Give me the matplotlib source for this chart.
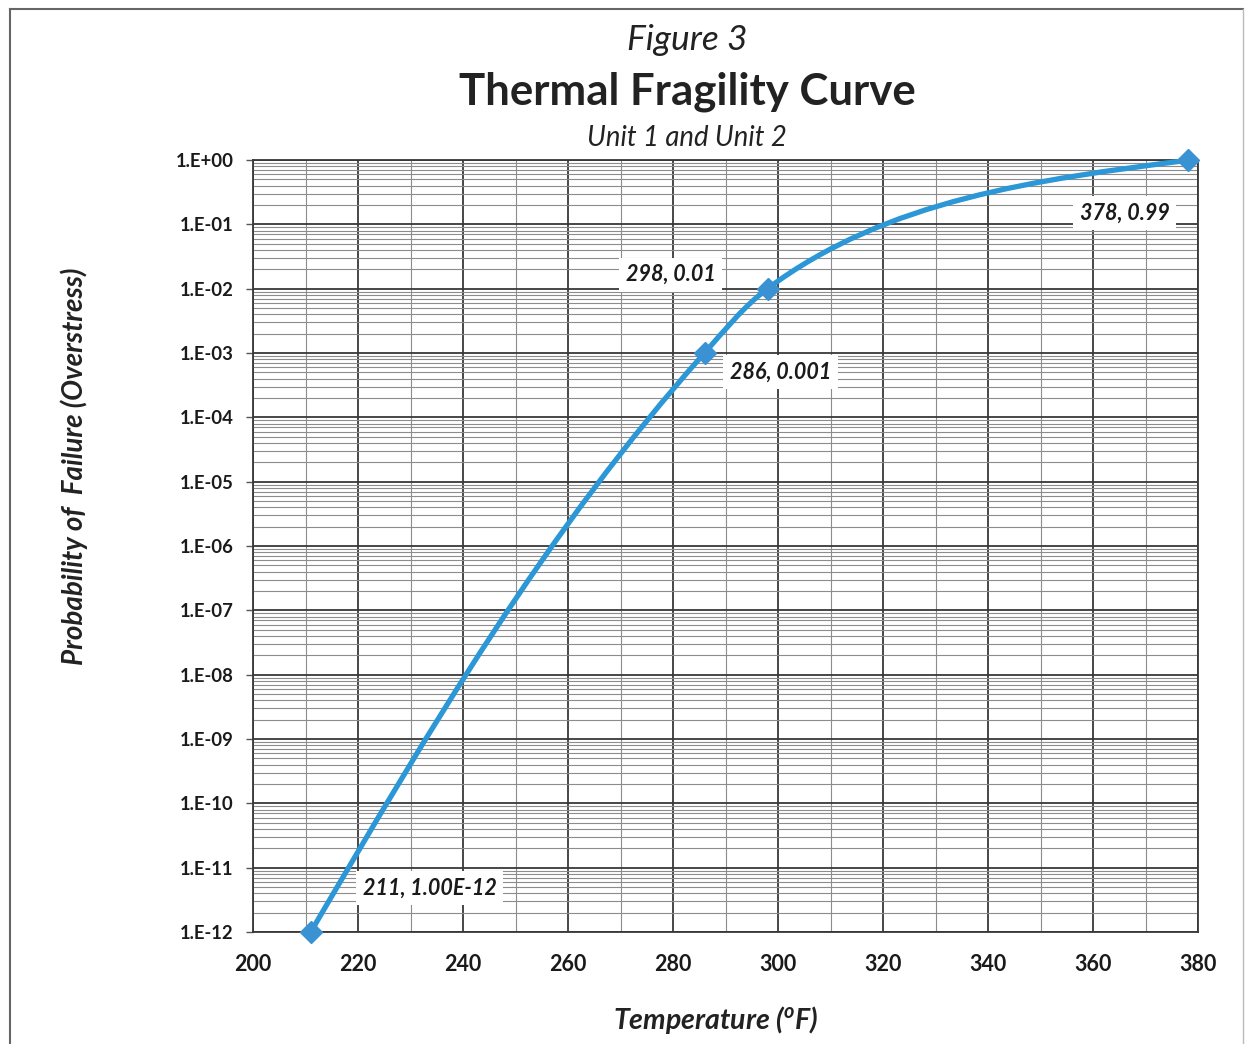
import numpy as np
import matplotlib
matplotlib.use("Agg")
import matplotlib.pyplot as plt
from matplotlib.path import Path
from matplotlib.patches import PathPatch
from matplotlib.lines import Line2D
from matplotlib.ticker import LogLocator, MultipleLocator, NullFormatter, FuncFormatter

# ==========================
# DATA
# ==========================

temps = [211, 286, 298, 378]
probs = [1.00e-12, 0.001, 0.01, 0.99]
point_labels = ["211, 1.00E-12", "286, 0.001", "298, 0.01", "378, 0.99"]

x_ticks = [200, 220, 240, 260, 280, 300, 320, 340, 360, 380]

# label offsets from each point (pixels)
label_offsets = [(119, 44), (76, -19), (-97, 14), (-63, -53)]

# ==========================
# STYLE
# ==========================

FONT = "Lato"
plt.rcParams["font.family"] = [FONT, "DejaVu Sans"]
plt.rcParams["mathtext.fontset"] = "custom"
plt.rcParams["mathtext.rm"] = FONT + ":italic:bold"
plt.rcParams["mathtext.it"] = FONT + ":italic:bold"

blue = "#2B97D6"

fig = plt.figure(figsize=(12.46, 10.44), dpi=100)
ax = fig.add_axes([253 / 1246, 112 / 1044, 945 / 1246, 772 / 1044])

ax.set_yscale("log")
ax.set_xlim(200, 380)
ax.set_ylim(1e-12, 1e0)

ax.set_xticks(x_ticks)
ax.xaxis.set_minor_locator(MultipleLocator(10))
ax.yaxis.set_major_locator(LogLocator(base=10, numticks=20))
ax.yaxis.set_minor_locator(LogLocator(base=10, subs=range(2, 10), numticks=20))
ax.yaxis.set_minor_formatter(NullFormatter())
ax.yaxis.set_major_formatter(
    FuncFormatter(lambda v, p: "1.E%+03d" % int(round(np.log10(v))))
)

ax.grid(which="major", color="#383838", lw=1.3)
ax.grid(which="minor", color="#8c8c8c", lw=0.8)
ax.set_axisbelow(True)

ax.tick_params(axis="x", which="both", length=0, pad=16, labelsize=15.5)
ax.tick_params(axis="y", which="major", length=5, width=1, color="#555555",
               pad=9, labelsize=13.3)
ax.tick_params(axis="y", which="minor", length=0)
for lab in ax.get_xticklabels() + ax.get_yticklabels():
    lab.set_fontweight("bold")
    lab.set_color("#1a1a1a")

for s in ax.spines.values():
    s.set_color("#383838")
    s.set_linewidth(1.3)


# ==========================
# SMOOTHED LINE (bezier, like a spreadsheet "smoothed line")
# ==========================

def smooth_path(ax, xs, ys, k=0.34, p=0.5):
    pts = ax.transData.transform(np.column_stack([xs, ys]))
    n = len(pts)
    seg = np.diff(pts, axis=0)
    d = np.hypot(seg[:, 0], seg[:, 1])
    tan = np.zeros_like(pts)
    for i in range(1, n - 1):
        t = seg[i - 1] / d[i - 1] * d[i] ** p + seg[i] / d[i] * d[i - 1] ** p
        tan[i] = t / np.hypot(*t)
    ctrl = []
    for i in range(n - 1):
        L = d[i] * k
        ctrl.append([pts[i] + tan[i] * L, pts[i + 1] - tan[i + 1] * L])
    # natural ends
    ctrl[0][0] = (pts[0] + ctrl[0][1]) / 2
    ctrl[-1][1] = (pts[-1] + ctrl[-1][0]) / 2
    verts = [pts[0]]
    codes = [Path.MOVETO]
    for i in range(n - 1):
        verts += [ctrl[i][0], ctrl[i][1], pts[i + 1]]
        codes += [Path.CURVE4] * 3
    verts = ax.transData.inverted().transform(np.array(verts))
    return Path(verts, codes)


curve = PathPatch(smooth_path(ax, temps, probs), facecolor="none",
                  edgecolor=blue, lw=3.8, transform=ax.transData,
                  clip_on=False, zorder=3, capstyle="round")
ax.add_patch(curve)

ax.plot(temps, probs, "D", ms=11.5, color="#3A92D2", mec="#3A92D2",
        clip_on=False, zorder=4)

for xv, yv, txt, off in zip(temps, probs, point_labels, label_offsets):
    ax.annotate(txt, (xv, yv), xytext=off, textcoords="offset pixels",
                ha="center", va="center", fontsize=15.5, fontweight="bold",
                fontstyle="italic", color="#1a1a1a", zorder=5,
                bbox=dict(boxstyle="square,pad=0.3", fc="white", ec="none"))

# ==========================
# TEXT
# ==========================

cx = 687 / 1246
fig.text(cx, 1 - 40 / 1044, "Figure 3", ha="center", va="center",
         fontsize=25.5, fontstyle="italic", color="#222222")
fig.text(cx, 1 - 92 / 1044, "Thermal Fragility Curve", ha="center",
         va="center", fontsize=31.5, fontweight="bold", color="#222222")
fig.text(cx, 1 - 138 / 1044, "Unit 1 and Unit 2", ha="center", va="center",
         fontsize=19.8, fontstyle="italic", color="#222222")

fig.text(74 / 1246, 1 - 466 / 1044, "Probability of  Failure (Overstress)",
         rotation=90, ha="center", va="center", fontsize=20,
         fontweight="bold", fontstyle="italic", color="#222222")
fig.text(716 / 1246, 1 - 1020 / 1044, r"Temperature ($\mathregular{^o}$F)",
         ha="center", va="center", fontsize=20.5, fontweight="bold",
         fontstyle="italic", color="#222222")

# page border
bc = "#666666"
fig.add_artist(Line2D([10 / 1246, 10 / 1246], [0, 1 - 9 / 1044],
                      transform=fig.transFigure, color=bc, lw=1.5))
fig.add_artist(Line2D([10 / 1246, 1243 / 1246], [1 - 9 / 1044, 1 - 9 / 1044],
                      transform=fig.transFigure, color=bc, lw=1.5))
fig.add_artist(Line2D([1243 / 1246, 1243 / 1246], [0, 1 - 9 / 1044],
                      transform=fig.transFigure, color="#bbbbbb", lw=1))

fig.savefig("out.png", dpi=100)
